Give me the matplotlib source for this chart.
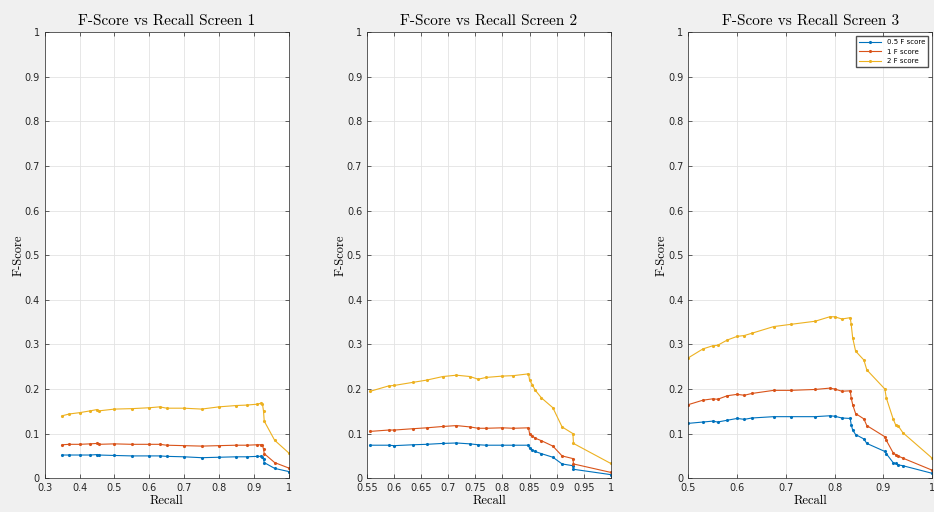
import numpy as np
import matplotlib
matplotlib.use('Agg')
from matplotlib import pyplot as plt
from matplotlib.ticker import FuncFormatter

# screen 1
rec1 = [0.35, 0.37, 0.40, 0.43, 0.45, 0.455, 0.50, 0.55, 0.60, 0.63, 0.65, 0.70, 0.75, 0.80, 0.85, 0.88, 0.91, 0.92, 0.925, 0.928, 0.93, 0.96, 1.0]
f05_1 = [0.052, 0.052, 0.052, 0.052, 0.053, 0.052, 0.051, 0.050, 0.050, 0.050, 0.049, 0.048, 0.046, 0.047, 0.048, 0.048, 0.049, 0.049, 0.048, 0.042, 0.035, 0.022, 0.015]
f1_1 = [0.075, 0.076, 0.076, 0.077, 0.078, 0.076, 0.077, 0.076, 0.076, 0.076, 0.074, 0.073, 0.072, 0.073, 0.074, 0.074, 0.075, 0.075, 0.074, 0.065, 0.055, 0.035, 0.023]
f2_1 = [0.140, 0.144, 0.147, 0.151, 0.154, 0.151, 0.155, 0.156, 0.158, 0.160, 0.157, 0.157, 0.155, 0.160, 0.163, 0.164, 0.166, 0.168, 0.166, 0.150, 0.128, 0.085, 0.057]

# screen 2
rec2 = [0.556, 0.59, 0.60, 0.635, 0.66, 0.69, 0.715, 0.74, 0.755, 0.77, 0.80, 0.82, 0.848, 0.85, 0.855, 0.86, 0.872, 0.893, 0.91, 0.93, 0.931, 1.0]
f05_2 = [0.074, 0.074, 0.073, 0.075, 0.076, 0.078, 0.079, 0.077, 0.075, 0.074, 0.074, 0.074, 0.074, 0.067, 0.063, 0.060, 0.055, 0.047, 0.032, 0.028, 0.020, 0.008]
f1_2 = [0.105, 0.108, 0.108, 0.111, 0.113, 0.116, 0.118, 0.115, 0.112, 0.112, 0.113, 0.112, 0.113, 0.100, 0.095, 0.090, 0.084, 0.072, 0.050, 0.044, 0.032, 0.013]
f2_2 = [0.195, 0.207, 0.208, 0.215, 0.220, 0.228, 0.231, 0.228, 0.222, 0.226, 0.229, 0.230, 0.234, 0.220, 0.210, 0.198, 0.180, 0.158, 0.115, 0.100, 0.078, 0.033]

# screen 3
rec3 = [0.50, 0.53, 0.55, 0.56, 0.58, 0.60, 0.615, 0.63, 0.675, 0.71, 0.76, 0.79, 0.80, 0.815, 0.832, 0.834, 0.837, 0.843, 0.86, 0.866, 0.903, 0.906, 0.92, 0.925, 0.93, 0.94, 1.0]
f05_3 = [0.123, 0.126, 0.128, 0.126, 0.130, 0.134, 0.132, 0.135, 0.138, 0.138, 0.138, 0.140, 0.139, 0.135, 0.134, 0.120, 0.108, 0.098, 0.088, 0.078, 0.060, 0.055, 0.035, 0.033, 0.030, 0.028, 0.011]
f1_3 = [0.165, 0.175, 0.178, 0.177, 0.185, 0.188, 0.186, 0.190, 0.197, 0.197, 0.199, 0.202, 0.200, 0.195, 0.196, 0.180, 0.165, 0.145, 0.133, 0.118, 0.093, 0.085, 0.057, 0.053, 0.050, 0.045, 0.018]
f2_3 = [0.270, 0.290, 0.297, 0.298, 0.310, 0.318, 0.320, 0.325, 0.340, 0.345, 0.352, 0.362, 0.362, 0.357, 0.360, 0.345, 0.315, 0.285, 0.265, 0.243, 0.200, 0.180, 0.133, 0.120, 0.118, 0.102, 0.045]

screens = [
    (rec1, f05_1, f1_1, f2_1, np.arange(0.3, 1.001, 0.1), 0.3),
    (rec2, f05_2, f1_2, f2_2, np.arange(0.55, 1.001, 0.05), 0.55),
    (rec3, f05_3, f1_3, f2_3, np.arange(0.5, 1.001, 0.1), 0.5),
]
colors = ['#0072BD', '#D95319', '#EDB120']
names = ['0.5 F score', '1 F score', '2 F score']
lefts = [0.048, 0.393, 0.737]

fig = plt.figure(figsize=(9.34, 5.12), dpi=100, facecolor='#f0f0f0')
fmt = FuncFormatter(lambda v, p: '%g' % round(v, 2))

for i, (rec, a, b, c, xt, x0) in enumerate(screens):
    ax = fig.add_axes([lefts[i], 0.066, 0.261, 0.871])
    for y, col, nm in zip([a, b, c], colors, names):
        ax.plot(rec, y, color=col, lw=0.8, marker='.', ms=2.5, label=nm)
    ax.set_xlim(x0, 1)
    ax.set_ylim(0, 1)
    ax.set_xticks(xt)
    ax.set_yticks(np.arange(0, 1.001, 0.1))
    ax.xaxis.set_major_formatter(fmt)
    ax.yaxis.set_major_formatter(fmt)
    ax.tick_params(direction='in', top=True, right=True, labelsize=7, length=3,
                   colors='#262626', width=0.5)
    ax.grid(True, color='#e3e3e3', lw=0.6)
    for s in ax.spines.values():
        s.set_color('#262626')
        s.set_linewidth(0.5)
    ax.set_title('F-Score vs Recall Screen %d' % (i + 1), family='cmr10', fontsize=11, pad=5)
    ax.set_xlabel('Recall', family='cmr10', fontsize=9, labelpad=1)
    ax.set_ylabel('F-Score', family='cmr10', fontsize=9, labelpad=0)
    if i == 2:
        ax.legend(loc='upper right', fontsize=5, frameon=True, fancybox=False,
                  edgecolor='#262626', handlelength=3.2, borderaxespad=0.6)

fig.savefig('out.png', dpi=100, facecolor=fig.get_facecolor())
